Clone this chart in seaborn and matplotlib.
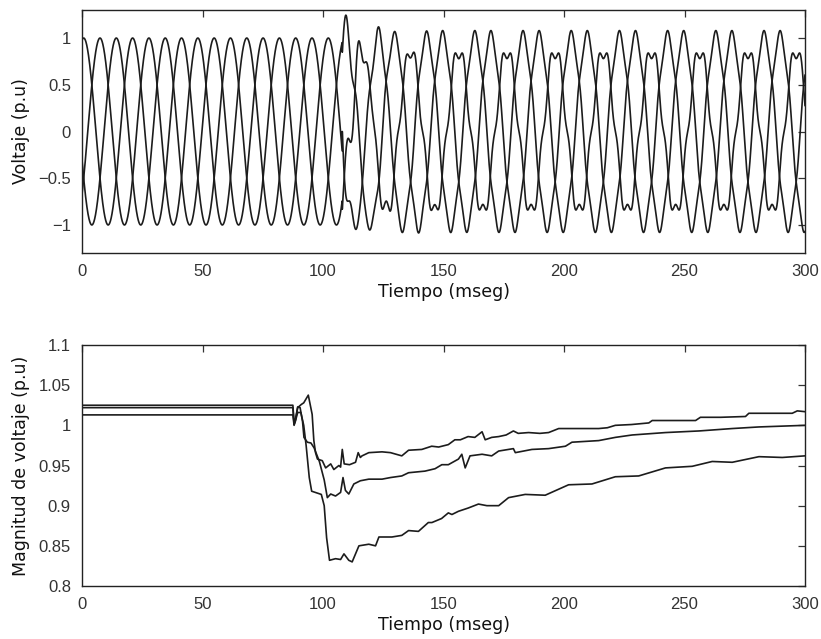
import numpy as np
import pandas as pd
import matplotlib
matplotlib.use("Agg")
import matplotlib.pyplot as plt
import seaborn as sns

# ---------------- data ----------------
# Top panel: three-phase voltage waveforms (parameters)
phases = ["a", "b", "c"]
t_fault_ms = 108.0
pre_period_ms = 20.3          # peak spacing of 6.76 ms between phases
pre_first_peak_ms = 0.7
pre_amp = [1.0, 1.0, 1.0]
post_period_ms = 20.0
post_peak_ms = 243.0          # a tall post-fault peak of phase a
post_fund = [1.03, 1.03, 0.87]
post_h5 = [0.05, 0.05, -0.09]  # notches / double humps
trans_amp = [-0.22, 0.2, 0.28]
trans_freq_hz = 180.0
trans_tau_ms = 9.0
phase_shift = [0.0, 1.0 / 3.0, 2.0 / 3.0]

# Bottom panel: voltage magnitude of the three phases
mag_u_t = [0, 87.5, 88.0, 88.5, 89.5, 91, 92, 93.9, 95.5, 96.2, 96.9, 97.7, 99.7, 101.1,
           103.2, 104.5, 106.6, 107.3, 108.0, 108.8, 111, 113.5, 114.6, 115.5, 116.2, 119,
           124.5, 128, 132.7, 135.5, 141, 145.1, 148, 152, 154.7, 157, 160.2, 163, 166,
           167.3, 170, 172.9, 176, 179, 181, 185.3, 190, 193.6, 197.8, 205, 214.4, 218,
           221.3, 228, 235.2, 236.6, 245, 254.6, 256.6, 265, 275.3, 276.7, 285, 294.7,
           296.8, 300]
mag_u_v = [1.022, 1.022, 1.001, 1.005, 1.022, 1.026, 1.028, 1.0376, 1.0136, 0.981, 0.966,
           0.958, 0.956, 0.947, 0.952, 0.945, 0.950, 0.948, 0.970, 0.952, 0.951, 0.954,
           0.966, 0.960, 0.962, 0.966, 0.967, 0.966, 0.962, 0.969, 0.970, 0.974, 0.973,
           0.976, 0.982, 0.982, 0.986, 0.985, 0.992, 0.982, 0.985, 0.986, 0.988, 0.993,
           0.990, 0.991, 0.990, 0.991, 0.996, 0.996, 0.996, 0.997, 1.000, 1.001, 1.003,
           1.006, 1.006, 1.006, 1.010, 1.010, 1.011, 1.015, 1.015, 1.015, 1.018, 1.017]

mag_m_t = [0, 87.5, 88.0, 88.6, 89.5, 90.5, 91.5, 92.1, 93.5, 95, 96.3, 98.5, 100.5, 101.8,
           103.2, 105.2, 107.3, 108.3, 109.3, 110.7, 112.8, 115.5, 119, 124.5, 128, 132.7,
           135.5, 142.3, 146.5, 149.3, 152, 156.2, 157.6, 159, 161, 166, 170, 172.9, 179,
           179.8, 186.7, 193.6, 200.6, 203.3, 214.4, 221.3, 228.3, 242.1, 256, 269.8,
           280.9, 300]
mag_m_v = [1.025, 1.025, 1.003, 1.008, 1.023, 1.022, 1.005, 0.985, 0.979, 0.978, 0.972,
           0.955, 0.932, 0.910, 0.9145, 0.912, 0.9165, 0.935, 0.919, 0.9145, 0.927, 0.931,
           0.933, 0.933, 0.935, 0.937, 0.941, 0.943, 0.946, 0.951, 0.951, 0.958, 0.964,
           0.947, 0.962, 0.964, 0.962, 0.968, 0.971, 0.966, 0.970, 0.971, 0.974, 0.979,
           0.981, 0.985, 0.988, 0.991, 0.993, 0.996, 0.998, 1.000]

mag_l_t = [0, 87.5, 88.0, 88.6, 89.5, 90.8, 92, 93, 94.3, 95.3, 99.3, 100.5, 101.5, 102.7,
           105.2, 107.3, 108.7, 110.7, 112.1, 113.5, 114.9, 119, 121.8, 123.2, 128.6, 132.7,
           135.5, 139.6, 143.7, 145.2, 149.2, 152, 153.5, 156.2, 160.2, 164.5, 168, 172.9,
           177, 183.9, 192.2, 201.9, 211.6, 221.3, 231, 242.1, 253.2, 261.5, 269.8, 280.9,
           290.6, 300]
mag_l_v = [1.013, 1.013, 1.0, 1.006, 1.016, 1.016, 1.0, 0.975, 0.935, 0.918, 0.914, 0.900,
           0.860, 0.832, 0.834, 0.833, 0.840, 0.832, 0.830, 0.840, 0.850, 0.852, 0.850,
           0.861, 0.861, 0.863, 0.869, 0.868, 0.879, 0.879, 0.884, 0.891, 0.889, 0.893,
           0.897, 0.902, 0.900, 0.900, 0.910, 0.914, 0.913, 0.926, 0.927, 0.936, 0.937,
           0.947, 0.949, 0.955, 0.954, 0.961, 0.960, 0.962]

x_ticks = [0, 50, 100, 150, 200, 250, 300]
top_y_ticks = [-1, -0.5, 0, 0.5, 1]
top_y_labels = ["\u22121", "\u22120.5", "0", "0.5", "1"]
bot_y_ticks = [0.8, 0.85, 0.9, 0.95, 1.0, 1.05, 1.1]
bot_y_labels = ["0.8", "0.85", "0.9", "0.95", "1", "1.05", "1.1"]

# ---------------- build waveform table ----------------
t = np.arange(0.0, 300.0001, 0.05)
rows = []
for i, ph in enumerate(phases):
    th_pre = 2 * np.pi * ((t - pre_first_peak_ms) / pre_period_ms - phase_shift[i])
    pre = pre_amp[i] * np.cos(th_pre)
    th_post = 2 * np.pi * ((t - post_peak_ms) / post_period_ms - phase_shift[i])
    post = post_fund[i] * np.cos(th_post) + post_h5[i] * np.cos(5 * th_post)
    dt = np.clip(t - t_fault_ms, 0, None)
    trans = trans_amp[i] * np.exp(-dt / trans_tau_ms) * np.sin(2 * np.pi * trans_freq_hz * dt / 1000.0)
    y = np.where(t < t_fault_ms, pre, post + trans)
    rows.append(pd.DataFrame({"t": t, "v": y, "fase": ph}))
wave = pd.concat(rows, ignore_index=True)

mag = pd.concat([
    pd.DataFrame({"t": mag_u_t, "v": mag_u_v, "fase": "a"}),
    pd.DataFrame({"t": mag_m_t, "v": mag_m_v, "fase": "b"}),
    pd.DataFrame({"t": mag_l_t, "v": mag_l_v, "fase": "c"}),
], ignore_index=True)

# ---------------- plot ----------------
sns.set_theme(style="white")
plt.rcParams["font.family"] = ["Liberation Sans", "DejaVu Sans"]
plt.rcParams["axes.unicode_minus"] = True

fig = plt.figure(figsize=(8.21, 6.39), dpi=100)
ax1 = fig.add_axes([82 / 821, 1 - 253 / 639, 723 / 821, 243 / 639])
ax2 = fig.add_axes([82 / 821, 1 - 586 / 639, 723 / 821, 241 / 639])

pal = {"a": "#1c1c1c", "b": "#1c1c1c", "c": "#1c1c1c"}
sns.lineplot(data=wave, x="t", y="v", hue="fase", palette=pal, estimator=None,
             sort=False, legend=False, linewidth=1.2, ax=ax1)
sns.lineplot(data=mag, x="t", y="v", hue="fase", palette=pal, estimator=None,
             sort=False, legend=False, linewidth=1.2, ax=ax2)

ax1.set_xlim(0, 300)
ax1.set_ylim(-1.3, 1.3)
ax1.set_yticks(top_y_ticks)
ax1.set_yticklabels(top_y_labels)
ax2.set_xlim(0, 300)
ax2.set_ylim(0.8, 1.1)
ax2.set_yticks(bot_y_ticks)
ax2.set_yticklabels(bot_y_labels)

label_font = dict(family=["DejaVu Sans"], size=12.5, color="#111111")
for ax, ylab in [(ax1, "Voltaje (p.u)"), (ax2, "Magnitud de voltaje (p.u)")]:
    ax.set_xticks(x_ticks)
    ax.set_xticklabels([str(v) for v in x_ticks])
    ax.set_xlabel("Tiempo (mseg)", fontdict=label_font, labelpad=3)
    ax.set_ylabel(ylab, fontdict=label_font, labelpad=6)
    ax.tick_params(direction="in", length=5, width=0.9, top=True, right=True,
                   labelsize=12, colors="#333333", pad=8)
    for sp in ax.spines.values():
        sp.set_color("#222222")
        sp.set_linewidth(1.0)
    ax.set_facecolor("white")

fig.savefig("out.png", dpi=100, facecolor="white")
